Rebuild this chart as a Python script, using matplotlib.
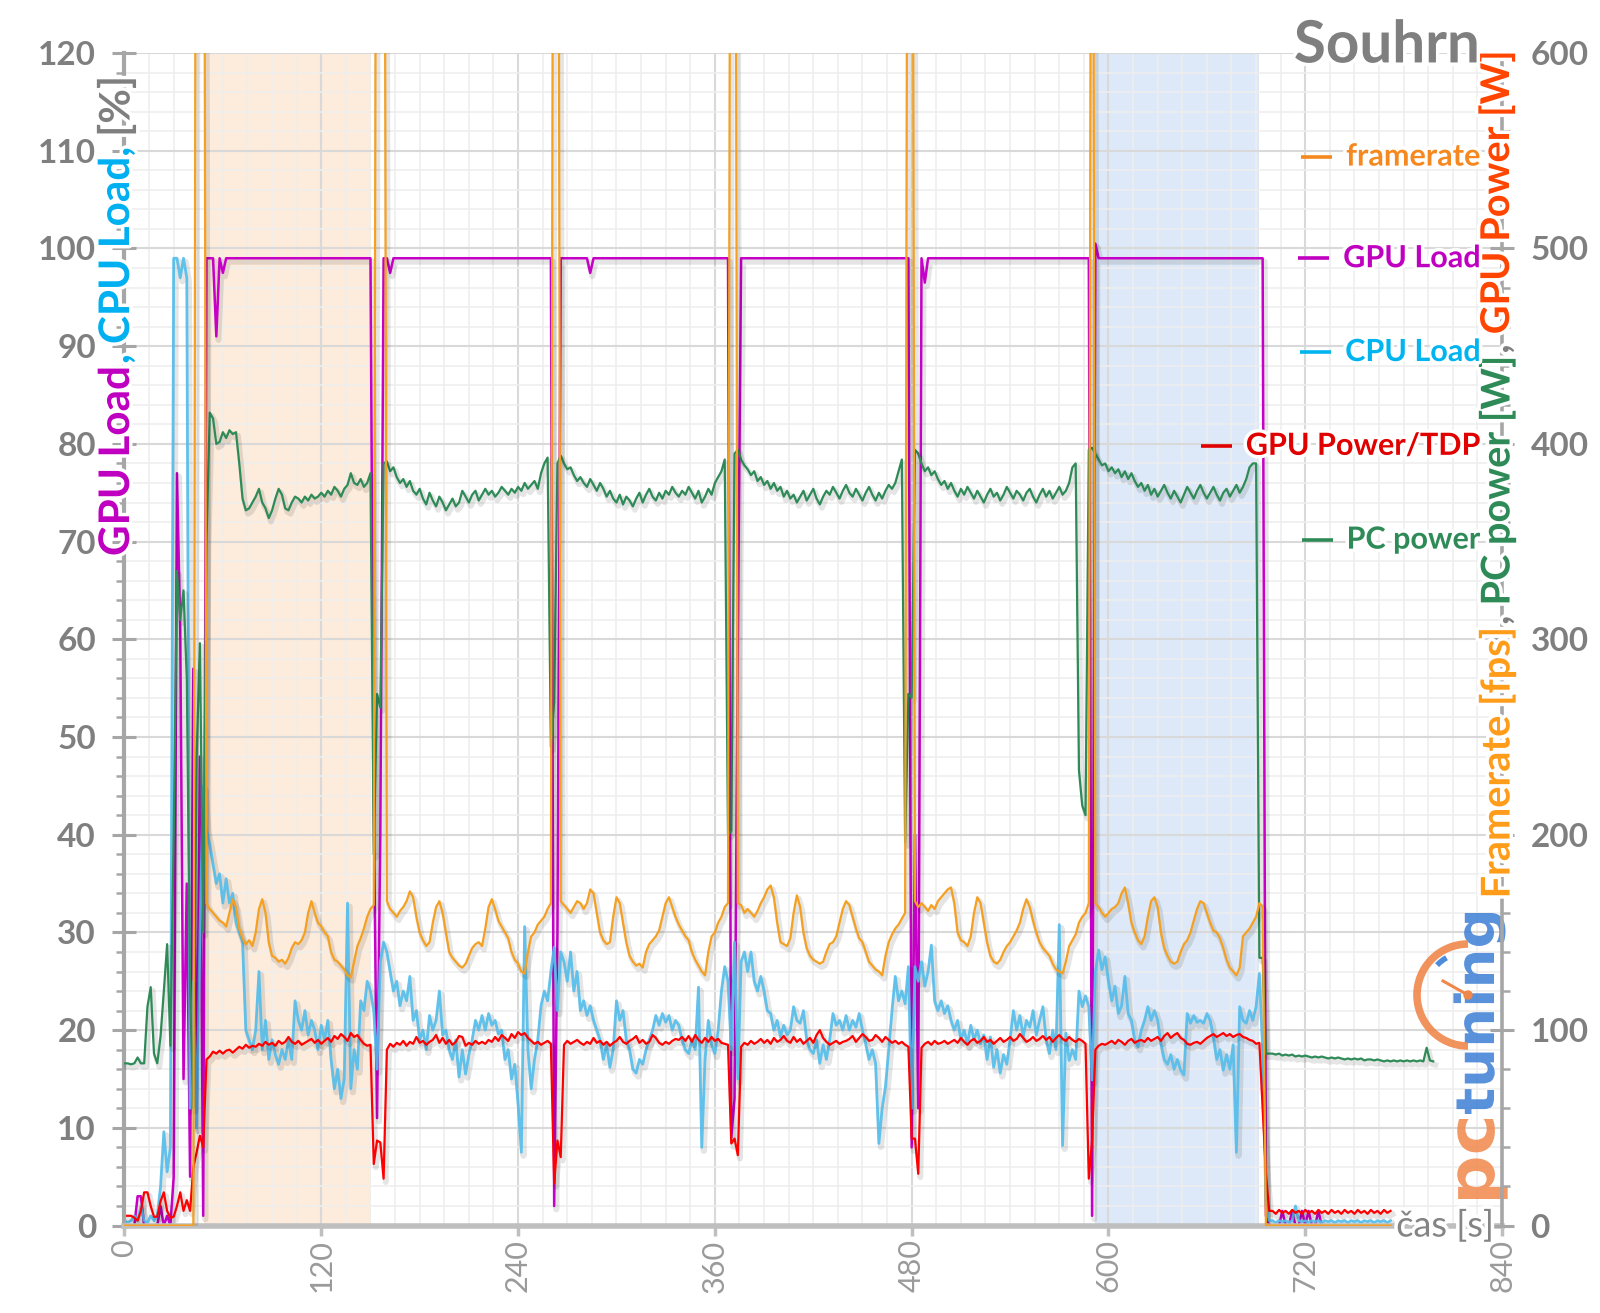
import numpy as np
import matplotlib
matplotlib.use("Agg")
import matplotlib.pyplot as plt
import matplotlib.patheffects as pe
from matplotlib.ticker import MultipleLocator
from matplotlib.lines import Line2D
from matplotlib.patches import Arc, Circle, PathPatch
from matplotlib.textpath import TextPath
from matplotlib.font_manager import FontProperties
from matplotlib.transforms import Affine2D, IdentityTransform

plt.rcParams['font.family'] = ['Lato', 'DejaVu Sans']

# one sample every 2 s; PC power is logged until 798 s, the GPU/CPU sensors until 772 s
t_pc = np.arange(0, 800, 2)
t_hw = np.arange(0, 774, 2)

# GPU Load [%]
gpu_load = [
    0, 0, 0, 0, 3, 3, 0, 0, 0, 0,
    0, 2, 0, 1, 0, 5, 77, 61, 15, 35,
    5, 57, 10, 48, 1, 99, 99, 99, 91, 99,
    97.5, 99, 99, 99, 99, 99, 99, 99, 99, 99,
    99, 99, 99, 99, 99, 99, 99, 99, 99, 99,
    99, 99, 99, 99, 99, 99, 99, 99, 99, 99,
    99, 99, 99, 99, 99, 99, 99, 99, 99, 99,
    99, 99, 99, 99, 99, 99, 43, 11, 40, 99,
    99, 97.5, 99, 99, 99, 99, 99, 99, 99, 99,
    99, 99, 99, 99, 99, 99, 99, 99, 99, 99,
    99, 99, 99, 99, 99, 99, 99, 99, 99, 99,
    99, 99, 99, 99, 99, 99, 99, 99, 99, 99,
    99, 99, 99, 99, 99, 99, 99, 99, 99, 99,
    99, 2, 30, 99, 99, 99, 99, 99, 99, 99,
    99, 99, 97.5, 99, 99, 99, 99, 99, 99, 99,
    99, 99, 99, 99, 99, 99, 99, 99, 99, 99,
    99, 99, 99, 99, 99, 99, 99, 99, 99, 99,
    99, 99, 99, 99, 99, 99, 99, 99, 99, 99,
    99, 99, 99, 99, 99, 9, 13, 60, 99, 99,
    99, 99, 99, 99, 99, 99, 99, 99, 99, 99,
    99, 99, 99, 99, 99, 99, 99, 99, 99, 99,
    99, 99, 99, 99, 99, 99, 99, 99, 99, 99,
    99, 99, 99, 99, 99, 99, 99, 99, 99, 99,
    99, 99, 99, 99, 99, 99, 99, 99, 99, 99,
    8, 40, 12, 99, 96.5, 99, 99, 99, 99, 99,
    99, 99, 99, 99, 99, 99, 99, 99, 99, 99,
    99, 99, 99, 99, 99, 99, 99, 99, 99, 99,
    99, 99, 99, 99, 99, 99, 99, 99, 99, 99,
    99, 99, 99, 99, 99, 99, 99, 99, 99, 99,
    99, 99, 99, 99, 99, 1, 100.5, 99, 99, 99,
    99, 99, 99, 99, 99, 99, 99, 99, 99, 99,
    99, 99, 99, 99, 99, 99, 99, 99, 99, 99,
    99, 99, 99, 99, 99, 99, 99, 99, 99, 99,
    99, 99, 99, 99, 99, 99, 99, 99, 99, 99,
    99, 99, 99, 99, 99, 99, 99, 99, 1, 0,
    0, 0, 0, 1.5, 0, 0, 1.5, 0, 0, 1.5,
    0, 1.5, 0, 0, 1.5, 0, 0, 0, 0, 0,
    0, 0, 0, 0, 0, 0, 0, 0, 0, 0,
    0, 0, 0, 0, 0, 0, 0,
]

# CPU Load [%]
cpu_load = [
    0.5, 0.3, 0.5, 1, 0.5, 2, 0.5, 0.3, 1, 0.5,
    1, 4, 9.6, 5.5, 8, 99, 99, 97, 99, 97,
    12, 25, 10, 30, 45, 40.5, 39, 37, 35, 36,
    33, 35.5, 33, 34, 31, 30, 29, 20, 19, 18,
    20, 26, 18, 21, 17, 19, 17.5, 16.5, 18, 17,
    19, 17, 23, 21, 20, 22, 19.5, 21, 20, 18,
    20.5, 19, 21, 17, 14, 16, 13, 15, 33, 14,
    18, 16, 23, 22, 25, 24, 22, 16, 27, 29,
    28, 26, 24, 25, 22.5, 24, 23, 25.5, 21, 22,
    19, 20, 18, 21.5, 20, 21, 24, 19.5, 20, 18,
    17, 19, 15.2, 18, 15.5, 17.5, 19, 21, 20, 21.5,
    20, 21.7, 20.5, 21, 19.6, 20, 17, 18, 15, 16.5,
    12.5, 7.5, 30.6, 18, 14, 17, 19, 22.5, 24, 23,
    26, 28.5, 22, 28, 27, 25, 28, 24, 26, 22,
    23, 21.5, 22.5, 21, 20, 19, 17, 18.5, 16.2, 18,
    23, 21, 22, 19, 18, 16, 15.6, 17, 16.5, 18,
    19, 20, 21.5, 20.5, 21.7, 20.8, 21.5, 20, 21, 20.5,
    19, 18, 17.6, 19, 18, 24.4, 8, 17, 21, 18.5,
    17.6, 20, 24, 26.5, 25, 18, 29, 15, 27, 28,
    26, 28, 25, 24, 25.5, 24, 22, 21.7, 20, 21,
    19.3, 20.5, 19.5, 20, 22.4, 21, 20.7, 22, 19, 18,
    17.6, 19, 16.6, 18.5, 17, 19, 21.7, 20.5, 21, 20,
    21.5, 20, 21, 20.3, 21.7, 20, 18.6, 17, 18, 16.6,
    8.4, 12, 14.2, 18, 22, 25.5, 23, 24, 22.7, 26.5,
    12, 26.5, 25, 27, 24.5, 26, 28.7, 23, 22, 23,
    21.7, 22.5, 21, 20, 21, 19, 20, 18.6, 20.5, 19,
    20, 18.6, 19.5, 17, 19.3, 16.2, 18, 15.6, 17.5, 16.5,
    19, 22, 20, 21.5, 19.3, 21, 20.3, 22, 19.5, 21,
    22.4, 19, 17.6, 20, 18, 30.8, 8.2, 19.7, 16.9, 18,
    17, 24, 22.4, 23.5, 22.4, 14.9, 26, 28.2, 26.2, 27.5,
    25, 23, 24.5, 21.7, 22.5, 25.5, 21.7, 21, 19, 18.3,
    20, 21, 22.4, 21, 22, 21, 18.6, 17, 16.5, 17.5,
    16, 17, 15.9, 15.4, 21.7, 20.7, 21.5, 20.8, 21, 20.7,
    21.7, 21, 19.3, 17, 18, 15.9, 17.5, 16, 18.5, 7.5,
    22.4, 21, 20.7, 22, 21, 22.4, 25.8, 18, 2.2, 0.5,
    0.5, 0.3, 0.5, 0.4, 0.5, 0.3, 0.5, 2, 0.5, 0.4,
    0.5, 0.3, 0.5, 0.4, 0.5, 0.3, 0.5, 0.4, 0.5, 0.3,
    0.5, 0.4, 0.5, 0.3, 0.5, 0.4, 0.5, 0.3, 0.5, 0.4,
    0.5, 0.3, 0.5, 0.4, 0.5, 0.3, 0.5,
]

# GPU Power/TDP [%]
gpu_power = [
    1, 1, 1, 0.8, 0.5, 1.5, 3.4, 3.4, 2, 0.9,
    0.9, 2.5, 3.4, 1.5, 0.8, 0.9, 2, 3.4, 1.5, 2.6,
    1.5, 6, 7.5, 9.2, 8, 17, 17.3, 17.8, 17.6, 17.9,
    17.6, 17.9, 18, 17.7, 18, 18.3, 18.1, 18.5, 18.2, 18.4,
    18.3, 18.6, 18.4, 18.8, 18.5, 18.7, 18.4, 18.9, 18.6, 18.8,
    19.3, 18.8, 18.6, 18.9, 18.5, 18.7, 18.9, 19.1, 18.7, 19,
    18.6, 18.9, 19.2, 18.8, 19.4, 19.1, 19.6, 19.3, 18.9, 19.7,
    19.3, 19.5, 19, 18.6, 18.4, 18.5, 6.3, 8.7, 8.5, 4.8,
    18, 18.6, 18.3, 18.7, 18.5, 18.9, 18.4, 18.8, 18.6, 19.3,
    18.7, 18.9, 18.5, 18.8, 19, 19.5, 18.7, 19.2, 18.6, 19,
    18.5, 18.8, 19.4, 19.3, 18.4, 18.7, 18.5, 18.9, 18.6, 18.8,
    18.6, 19, 18.8, 19.3, 18.9, 19.5, 19.2, 18.9, 19.6, 19.2,
    19.8, 19.5, 19.7, 19.2, 18.9, 18.6, 18.8, 18.5, 18.7, 18.9,
    18.6, 4.3, 8.7, 7, 18.5, 18.9, 18.6, 18.8, 19, 18.7,
    18.5, 18.8, 18.6, 19.2, 18.7, 18.9, 18.5, 18.8, 18.4, 18.7,
    18.9, 19.3, 18.8, 18.6, 18.9, 19.1, 19.4, 18.7, 19, 18.6,
    18.8, 19.5, 19.2, 18.7, 18.5, 18.8, 18.6, 18.9, 19.1, 19,
    19.3, 18.9, 19.4, 18.8, 19.5, 19, 18.7, 19.2, 18.8, 19.3,
    18.9, 19.1, 18.7, 18.6, 18.5, 8.4, 8.9, 7.2, 18.3, 18.7,
    18.5, 18.9, 18.6, 18.8, 19.1, 18.7, 19, 18.6, 19.2, 18.8,
    19, 19.4, 18.9, 18.7, 19.3, 18.8, 19.1, 18.6, 18.9, 19.2,
    18.7, 19.5, 20, 19.2, 18.8, 18.5, 18.7, 18.9, 18.6, 18.8,
    18.9, 19.1, 19.4, 18.8, 19.2, 19.6, 19.3, 18.9, 19, 19.5,
    19.2, 18.8, 19.3, 19, 18.7, 18.9, 18.6, 18.8, 18.5, 18.3,
    8.9, 8.9, 5.3, 18.2, 18.6, 18.8, 18.5, 18.9, 18.6, 18.7,
    18.9, 18.6, 18.8, 19, 18.7, 19.2, 18.8, 18.5, 18.9, 19.1,
    18.7, 18.9, 19.3, 18.8, 19, 18.6, 18.9, 19.2, 18.8, 19,
    19.3, 18.9, 19.1, 19.6, 19.2, 18.8, 19, 19.3, 18.9, 19.1,
    19.4, 19, 19.3, 18.8, 19.2, 19.5, 19.1, 18.9, 19.3, 19,
    18.8, 19.1, 18.9, 18.6, 4.8, 8.7, 18, 18.4, 18.6, 18.5,
    18.7, 18.9, 18.6, 19, 18.8, 18.5, 18.9, 19.1, 18.7, 18.9,
    19, 18.8, 19.2, 18.9, 19.1, 19.3, 18.9, 19.4, 19.7, 19.2,
    19.5, 19.7, 19.2, 19, 18.6, 18.5, 18.7, 18.8, 18.6, 18.9,
    19.2, 19.4, 19.6, 19.3, 19.5, 19.7, 19.4, 19.6, 19.3, 19.5,
    19.6, 19.3, 19.2, 19, 18.9, 18.6, 18.7, 12, 5.3, 1.5,
    1.5, 1.2, 1.6, 1.3, 1.5, 1.2, 1.6, 1.3, 1.5, 1.2,
    1.6, 1.3, 1.5, 1.2, 1.6, 1.3, 1.5, 1.2, 1.6, 1.3,
    1.5, 1.2, 1.6, 1.3, 1.5, 1.2, 1.6, 1.3, 1.5, 1.2,
    1.6, 1.3, 1.5, 1.2, 1.6, 1.3, 1.5,
]

# framerate [fps]; 999 = off-scale reading during loading screens
framerate = [
    0, 0, 0, 0, 0, 0, 0, 0, 0, 0,
    0, 0, 0, 0, 0, 0, 0, 0, 0, 0,
    0, 0, 999, 999, 999, 165, 162, 160, 158, 156,
    155, 153, 160, 167, 163, 152, 147, 144, 146, 143,
    150, 162, 167, 160, 145, 138, 137, 135, 136, 134,
    137, 142, 145, 144, 146, 150, 160, 166, 160, 155,
    153, 150, 148, 140, 136, 135, 133, 131, 128, 127,
    135, 143, 147, 152, 158, 162, 164, 999, 999, 999,
    166, 162, 160, 158, 161, 163, 166, 171, 168, 158,
    150, 146, 143, 145, 155, 163, 166, 160, 150, 140,
    137, 135, 133, 132, 134, 138, 142, 144, 145, 143,
    152, 163, 167, 162, 156, 153, 150, 147, 140, 136,
    134, 130, 129, 140, 148, 150, 154, 156, 158, 162,
    165, 999, 999, 166, 164, 162, 160, 163, 166, 165,
    162, 165, 172, 170, 160, 150, 146, 144, 145, 158,
    168, 165, 155, 145, 138, 135, 133, 134, 132, 140,
    144, 146, 148, 151, 158, 165, 168, 163, 158, 154,
    151, 148, 146, 140, 136, 133, 130, 128, 140, 148,
    150, 155, 158, 163, 165, 999, 999, 165, 164, 160,
    162, 160, 158, 161, 165, 168, 172, 174, 168, 155,
    145, 144, 143, 147, 160, 169, 163, 150, 142, 138,
    136, 135, 134, 135, 140, 144, 145, 148, 155, 162,
    166, 164, 158, 152, 147, 145, 140, 135, 133, 131,
    130, 128, 138, 145, 149, 152, 154, 157, 160, 999,
    999, 166, 163, 165, 163, 161, 164, 162, 166, 168,
    170, 172, 173, 165, 150, 146, 145, 143, 148, 160,
    168, 165, 155, 145, 138, 135, 134, 136, 140, 143,
    145, 148, 151, 155, 162, 167, 163, 156, 150, 145,
    142, 140, 138, 134, 131, 130, 129, 135, 143, 146,
    149, 155, 158, 160, 165, 999, 165, 163, 160, 158,
    160, 162, 163, 165, 170, 173, 165, 155, 150, 146,
    144, 148, 158, 166, 168, 163, 150, 142, 138, 135,
    134, 135, 140, 144, 146, 150, 156, 162, 166, 165,
    160, 155, 151, 150, 147, 142, 136, 132, 130, 128,
    132, 148, 150, 152, 155, 158, 165, 163, 0, 0,
    0, 0, 0, 0, 0, 0, 0, 0, 0, 0,
    0, 0, 0, 0, 0, 0, 0, 0, 0, 0,
    0, 0, 0, 0, 0, 0, 0, 0, 0, 0,
    0, 0, 0, 0, 0, 0, 0,
]

# PC power [W]
pc_power = [
    83, 83, 82.5, 83, 86, 83, 83, 112, 122, 88,
    83, 97, 120, 144, 92, 200, 335, 310, 325, 280,
    120, 60, 240, 298, 150, 350, 416, 413, 400, 401,
    406, 403, 407, 405, 406, 390, 372, 366, 367, 370,
    373, 377, 370, 367, 362, 366, 372, 377, 374, 367,
    366, 370, 373, 372, 370, 373, 371, 374, 372, 373,
    375, 373, 376, 374, 378, 376, 373, 377, 379, 385,
    380, 379, 382, 378, 380, 385, 190, 272, 265, 390,
    391, 386, 388, 383, 380, 382, 378, 381, 376, 374,
    377, 372, 369, 375, 371, 368, 373, 370, 366, 369,
    372, 368, 370, 376, 373, 370, 374, 376, 371, 374,
    377, 374, 376, 373, 375, 378, 376, 374, 377, 375,
    378, 376, 380, 377, 379, 381, 377, 385, 390, 393,
    245, 268, 390, 394, 390, 387, 388, 384, 381, 383,
    380, 378, 382, 379, 376, 380, 377, 373, 376, 372,
    370, 374, 369, 373, 371, 368, 372, 375, 370, 374,
    377, 373, 371, 375, 372, 376, 374, 378, 375, 373,
    376, 374, 378, 375, 372, 376, 370, 373, 377, 374,
    380, 383, 386, 392, 200, 202, 395, 397, 392, 389,
    387, 384, 386, 381, 383, 379, 381, 377, 380, 376,
    378, 373, 376, 372, 374, 370, 373, 376, 371, 374,
    377, 372, 369, 373, 376, 374, 378, 375, 372, 376,
    379, 375, 373, 377, 374, 371, 375, 378, 374, 371,
    375, 372, 376, 379, 377, 380, 386, 392, 196, 272,
    270, 397, 395, 390, 386, 388, 384, 386, 382, 379,
    381, 377, 380, 376, 373, 377, 374, 378, 375, 372,
    376, 373, 370, 374, 377, 373, 375, 371, 374, 378,
    375, 372, 376, 374, 371, 375, 377, 373, 370, 374,
    377, 373, 376, 372, 375, 378, 374, 376, 380, 388,
    390, 233, 215, 210, 397, 398, 395, 392, 389, 390,
    386, 388, 385, 387, 383, 386, 382, 385, 381, 378,
    380, 376, 379, 374, 377, 373, 376, 379, 375, 372,
    376, 373, 370, 374, 378, 375, 372, 376, 379, 375,
    372, 375, 378, 374, 371, 375, 377, 373, 376, 379,
    375, 378, 382, 388, 390, 390, 137, 137, 88, 88,
    88, 87.5, 88, 87, 87.5, 87, 87.5, 86.5, 87, 86.5,
    87, 86.5, 86, 86.5, 86, 86.5, 86, 85.5, 86, 85.5,
    86, 85.5, 85, 85.5, 85, 85.5, 85, 85.5, 84.5, 85,
    85, 84.5, 85, 84.5, 84, 84.5, 84, 84.5, 84, 84.5,
    84, 84.5, 84, 84.5, 84, 84.5, 84, 91, 84.5, 84,
]

# test passes that were highlighted
span_orange = (48.5, 150.5)
span_blue = (592, 692)

C_GPU = '#c600c6'
C_CPU = '#52bdec'
C_PWR = '#ff0000'
C_FPS = '#f5a020'
C_PC = '#2e8b57'
GRAY = '#7f7f7f'

halo = [pe.withStroke(linewidth=5, foreground='white')]


def shadow(lw):
    return [pe.SimpleLineShadow(offset=(1.5, -2.5), shadow_color='black', alpha=0.10, linewidth=lw + 2.5),
            pe.Normal()]


fig = plt.figure(figsize=(16, 13.13), dpi=100)
ax = fig.add_axes([0.0778, 0.0666, 0.861, 0.893])
ax2 = ax.twinx()

ax.axvspan(*span_orange, color='#fdebdb', lw=0, zorder=0.1)
ax.axvspan(*span_blue, color='#dde9f8', lw=0, zorder=0.1)

ax.plot(t_hw, gpu_load, color=C_GPU, lw=1.8, path_effects=shadow(1.8))
ax.plot(t_hw, cpu_load, color=C_CPU, lw=2.0, alpha=0.9, path_effects=shadow(2.0))
ax.plot(t_hw, gpu_power, color=C_PWR, lw=1.6, path_effects=shadow(1.6))
ax2.plot(t_pc, pc_power, color=C_PC, lw=1.6, path_effects=shadow(1.6))
ax2.plot(t_hw, framerate, color=C_FPS, lw=1.6, path_effects=shadow(1.6))

# grid and axes
ax.set_axisbelow(True)
ax.xaxis.set_major_locator(MultipleLocator(120))
ax.xaxis.set_minor_locator(MultipleLocator(15))
ax.yaxis.set_minor_locator(MultipleLocator(2))
ax2.yaxis.set_minor_locator(MultipleLocator(20))
ax.set_yticks(np.arange(0, 121, 10))
ax.set_yticklabels([str(v) for v in range(0, 121, 10)], fontweight='bold')
ax2.set_yticks(np.arange(0, 601, 100))
ax2.set_yticklabels([str(v) for v in range(0, 601, 100)], fontweight='bold')
ax.grid(which='major', color='#d9d9d9', lw=1.5)
ax.grid(which='minor', color='#eeeeee', lw=1.1)

ax.tick_params(axis='y', which='major', direction='inout', length=17, width=2.2,
               color='#a6a6a6', labelsize=24, labelcolor=GRAY, pad=12)
ax.tick_params(axis='y', which='minor', direction='out', length=6, width=1.8, color='#a6a6a6')
ax2.tick_params(axis='y', which='major', direction='inout', length=17, width=2.2,
                color='#a6a6a6', labelsize=24, labelcolor=GRAY, pad=12)
ax2.tick_params(axis='y', which='minor', direction='out', length=6, width=1.8, color='#a6a6a6')
ax.tick_params(axis='x', which='major', direction='out', length=7, width=2.5, color='#bfbfbf',
               labelsize=22, labelcolor='#9a9a9a', labelrotation=90, pad=3)
ax.tick_params(axis='x', which='minor', length=0)

for a in (ax, ax2):
    a.spines['top'].set_visible(False)
ax.spines['right'].set_visible(False)
ax2.spines['left'].set_visible(False)
ax2.spines['bottom'].set_visible(False)
ax.spines['left'].set_color('#a6a6a6')
ax.spines['left'].set_linewidth(3)
ax.spines['bottom'].set_color('#bfbfbf')
ax.spines['bottom'].set_linewidth(4)
ax2.spines['right'].set_color('#a6a6a6')
ax2.spines['right'].set_linewidth(2.6)

ax.set_xlim(0, 840)
ax.set_ylim(0, 120)
ax2.set_ylim(0, 600)

renderer = fig.canvas.get_renderer()
ax_h = ax.get_window_extent(renderer).height


def vlabel(x, y0, pieces, size):
    arts = []
    y = y0
    for txt, col, gap in pieces:
        a = ax2.text(x, y, txt, transform=ax2.transAxes, rotation=90, rotation_mode='anchor',
                     ha='left', va='center', fontsize=size, fontweight='bold', color=col,
                     path_effects=halo, zorder=8, clip_on=False)
        bb = a.get_window_extent(renderer)
        y += (bb.height + gap) / ax_h
        arts.append(a)
    return arts, (y - y0) * ax_h


def fitted_vlabel(x, y0, pieces, target):
    arts, length = vlabel(x, y0, pieces, 25)
    for a in arts:
        a.remove()
    vlabel(x, y0, pieces, 25 * target / length)


fitted_vlabel(-0.0054, 0.571, [('GPU Load', '#c000c0', 2), (',', '#00b0f0', 10),
                               ('CPU Load,', '#00b0f0', 10), ('[%]', GRAY, 0)], 485)
fitted_vlabel(0.9964, 0.279, [('Framerate [fps]', '#ff9c1a', 2), (',', GRAY, 10),
                              ('PC power [W]', '#2e8b57', 2), (',', GRAY, 10),
                              ('GPU Power [W]', '#ff4500', 0)], 852)

fig.text(0.925, 0.965, 'Souhrn', ha='right', va='center', fontsize=42, fontweight='bold',
         color=GRAY, path_effects=halo)

# legend written along the right edge
legend = [('framerate', '#f5891f', 0.9117), ('GPU Load', '#c000c0', 0.825),
          ('CPU Load', '#00b4f0', 0.745), ('GPU Power/TDP', '#e00000', 0.665),
          ('PC power', '#2e8b57', 0.585)]
for name, col, yf in legend:
    txt = ax2.text(0.984, yf, name, transform=ax2.transAxes, ha='right', va='center',
                   fontsize=22, fontweight='bold', color=col, path_effects=halo, zorder=8)
    bb = txt.get_window_extent(renderer)
    yc = (bb.y0 + bb.y1) / 2
    ax2.add_line(Line2D([bb.x0 - 45, bb.x0 - 14], [yc, yc], transform=IdentityTransform(),
                        color=col, lw=2.6, solid_capstyle='butt', zorder=8))

ax2.text(0.994, 0.0, 'čas [s]', transform=ax2.transAxes, ha='right', va='center',
         fontsize=26, color='#848484', path_effects=halo, zorder=8, clip_on=False)

# pctuning logo (pixel coordinates)
fp = FontProperties(family='DejaVu Sans', weight='bold')


def logo_word(word, color, y_start, length, x_base, stretch):
    p = TextPath((0, 0), word, size=100, prop=fp)
    ext = p.get_extents()
    s = length / ext.width
    tr = Affine2D().translate(-ext.x0, 0).scale(s, s * stretch).rotate_deg(90).translate(x_base, y_start)
    patch = PathPatch(tr.transform_path(p), facecolor=color, edgecolor='none', alpha=0.85,
                      transform=IdentityTransform(), zorder=1, clip_on=False)
    ax2.add_patch(patch)


logo_word('pc', '#f0874a', 114, 80, 1494, 0.95)
logo_word('tuning', '#3c7fd4', 199, 201, 1494, 0.95)
gx, gy = 1468, 318
ax2.add_patch(Arc((gx, gy), 102, 102, theta1=90, theta2=270, color='#f0874a', lw=5.5,
                  transform=IdentityTransform(), zorder=1, clip_on=False, alpha=0.9))
ax2.add_patch(Arc((gx, gy), 86, 86, theta1=120, theta2=136, color='#3c7fd4', lw=4,
                  transform=IdentityTransform(), zorder=1, clip_on=False, alpha=0.9))
ax2.add_line(Line2D([gx, gx - 25], [gy, gy + 14], color='#f0874a', lw=2.2,
                    transform=IdentityTransform(), zorder=1, clip_on=False))
ax2.add_patch(Circle((gx, gy), 4, color='#f0874a', transform=IdentityTransform(), zorder=1,
                     clip_on=False))

ax.set_xlim(0, 840)
ax.set_ylim(0, 120)
ax2.set_ylim(0, 600)

fig.savefig('out.png', dpi=100, facecolor='white')
